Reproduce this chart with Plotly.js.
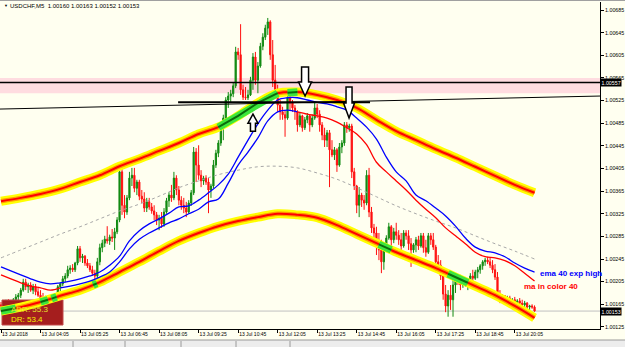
<!DOCTYPE html>
<html><head><meta charset="utf-8">
<script src="https://cdn.plot.ly/plotly-3.0.1.min.js"></script>
<style>html,body{margin:0;padding:0;background:#FFFFF0;overflow:hidden}#chart{width:625px;height:347px}</style>
</head><body><div id="chart"></div>
<script>
// ---------- DATA ----------
const symbolTitle = "USDCHF,M5  1.00160 1.00163 1.00152 1.00153";
const tickBars = [0,16,32,48,64,80,96,112,128,144,160,176,192,208];
const tickLabels = ["13 Jul 2018","13 Jul 04:05","13 Jul 05:25","13 Jul 06:45","13 Jul 08:05","13 Jul 09:25","13 Jul 10:45","13 Jul 12:05","13 Jul 13:25","13 Jul 14:45","13 Jul 16:05","13 Jul 17:25","13 Jul 18:45","13 Jul 20:05"];
const priceTicks = [1.00685,1.00645,1.00605,1.00565,1.00525,1.00485,1.00445,1.00405,1.00365,1.00325,1.00285,1.00245,1.00205,1.00165,1.00125];

const openP = [1.00164,1.00162,1.00166,1.00171,1.00164,1.00167,1.00173,1.00178,1.00181,1.00190,
1.00204,1.00196,1.00199,1.00190,1.00196,1.00187,1.00181,1.00176,1.00173,1.00176,
1.00169,1.00174,1.00171,1.00178,1.00196,1.00201,1.00210,1.00215,1.00226,1.00229,
1.00226,1.00238,1.00263,1.00247,1.00250,1.00238,1.00233,1.00226,1.00220,1.00215,
1.00240,1.00265,1.00273,1.00280,1.00277,1.00284,1.00282,1.00293,1.00314,1.00399,
1.00340,1.00328,1.00353,1.00388,1.00393,1.00370,1.00381,1.00356,1.00351,1.00335,
1.00346,1.00337,1.00330,1.00323,1.00314,1.00317,1.00307,1.00328,1.00348,1.00358,
1.00353,1.00388,1.00367,1.00349,1.00340,1.00335,1.00328,1.00344,1.00362,1.00434,
1.00411,1.00393,1.00383,1.00388,1.00381,1.00367,1.00374,1.00411,1.00432,1.00450,
1.00480,1.00494,1.00526,1.00533,1.00537,1.00551,1.00611,1.00606,1.00544,1.00531,
1.00530,1.00535,1.00561,1.00602,1.00561,1.00586,1.00621,1.00637,1.00653,1.00664,
1.00606,1.00561,1.00544,1.00517,1.00505,1.00500,1.00494,1.00530,1.00521,1.00512,
1.00505,1.00482,1.00498,1.00477,1.00491,1.00498,1.00482,1.00494,1.00512,1.00501,
1.00482,1.00464,1.00455,1.00468,1.00438,1.00429,1.00438,1.00411,1.00443,1.00450,
1.00482,1.00477,1.00480,1.00399,1.00374,1.00340,1.00358,1.00349,1.00344,1.00393,
1.00328,1.00300,1.00291,1.00270,1.00261,1.00240,1.00261,1.00282,1.00302,1.00279,
1.00293,1.00287,1.00279,1.00268,1.00291,1.00286,1.00272,1.00261,1.00270,1.00279,
1.00268,1.00286,1.00265,1.00257,1.00286,1.00279,1.00266,1.00240,1.00234,1.00215,
1.00183,1.00162,1.00181,1.00173,1.00199,1.00208,1.00204,1.00199,1.00208,1.00201,
1.00206,1.00215,1.00211,1.00222,1.00226,1.00233,1.00240,1.00243,1.00240,1.00234,
1.00226,1.00213,1.00181,1.00176,1.00180,1.00173,1.00176,1.00169,1.00173,1.00166,
1.00171,1.00167,1.00164,1.00167,1.00160,1.00162,1.00160];

const highP = [1.00169,1.00167,1.00173,1.00174,1.00169,1.00176,1.00183,1.00185,1.00194,1.00210,
1.00210,1.00203,1.00204,1.00201,1.00201,1.00194,1.00190,1.00185,1.00180,1.00181,
1.00178,1.00180,1.00180,1.00199,1.00204,1.00215,1.00220,1.00233,1.00234,1.00236,
1.00240,1.00268,1.00268,1.00254,1.00252,1.00245,1.00238,1.00233,1.00226,1.00247,
1.00272,1.00279,1.00286,1.00303,1.00288,1.00298,1.00300,1.00319,1.00406,1.00406,
1.00358,1.00358,1.00399,1.00406,1.00406,1.00385,1.00385,1.00367,1.00363,1.00353,
1.00353,1.00344,1.00340,1.00328,1.00323,1.00328,1.00335,1.00353,1.00363,1.00376,
1.00399,1.00393,1.00374,1.00356,1.00353,1.00346,1.00349,1.00367,1.00443,1.00441,
1.00446,1.00402,1.00392,1.00393,1.00388,1.00378,1.00420,1.00438,1.00455,1.00485,
1.00500,1.00531,1.00540,1.00544,1.00556,1.00620,1.00618,1.00660,1.00553,1.00549,
1.00544,1.00567,1.00609,1.00611,1.00593,1.00627,1.00644,1.00659,1.00671,1.00667,
1.00632,1.00588,1.00553,1.00526,1.00514,1.00508,1.00535,1.00538,1.00526,1.00517,
1.00508,1.00503,1.00500,1.00496,1.00503,1.00500,1.00500,1.00521,1.00519,1.00508,
1.00487,1.00477,1.00473,1.00473,1.00455,1.00443,1.00441,1.00450,1.00455,1.00487,
1.00487,1.00484,1.00484,1.00406,1.00376,1.00372,1.00362,1.00358,1.00402,1.00406,
1.00337,1.00307,1.00302,1.00291,1.00279,1.00270,1.00287,1.00309,1.00305,1.00300,
1.00309,1.00296,1.00291,1.00296,1.00296,1.00296,1.00282,1.00273,1.00284,1.00286,
1.00291,1.00291,1.00279,1.00291,1.00291,1.00291,1.00270,1.00252,1.00243,1.00226,
1.00199,1.00190,1.00199,1.00208,1.00213,1.00215,1.00217,1.00213,1.00213,1.00211,
1.00220,1.00226,1.00226,1.00231,1.00236,1.00243,1.00247,1.00249,1.00247,1.00243,
1.00236,1.00222,1.00190,1.00183,1.00181,1.00180,1.00180,1.00176,1.00178,1.00174,
1.00176,1.00173,1.00171,1.00169,1.00164,1.00165,1.00163];

const lowP = [1.00155,1.00157,1.00160,1.00162,1.00158,1.00164,1.00167,1.00171,1.00176,1.00187,
1.00190,1.00185,1.00187,1.00183,1.00181,1.00178,1.00173,1.00169,1.00166,1.00164,
1.00166,1.00167,1.00169,1.00174,1.00188,1.00197,1.00204,1.00211,1.00219,1.00222,
1.00222,1.00234,1.00240,1.00238,1.00233,1.00229,1.00222,1.00215,1.00204,1.00210,
1.00234,1.00257,1.00266,1.00272,1.00270,1.00275,1.00261,1.00289,1.00310,1.00323,
1.00317,1.00323,1.00349,1.00374,1.00363,1.00358,1.00349,1.00344,1.00328,1.00328,
1.00332,1.00325,1.00314,1.00305,1.00296,1.00300,1.00302,1.00325,1.00337,1.00346,
1.00349,1.00358,1.00340,1.00332,1.00326,1.00319,1.00325,1.00339,1.00358,1.00381,
1.00385,1.00372,1.00376,1.00376,1.00326,1.00353,1.00370,1.00406,1.00425,1.00445,
1.00455,1.00487,1.00512,1.00521,1.00531,1.00547,1.00597,1.00535,1.00526,1.00526,
1.00526,1.00533,1.00544,1.00553,1.00538,1.00583,1.00614,1.00632,1.00641,1.00597,
1.00549,1.00535,1.00505,1.00491,1.00491,1.00461,1.00491,1.00508,1.00505,1.00491,
1.00470,1.00478,1.00470,1.00473,1.00485,1.00470,1.00478,1.00491,1.00494,1.00470,
1.00455,1.00443,1.00443,1.00372,1.00425,1.00420,1.00399,1.00408,1.00432,1.00445,
1.00468,1.00470,1.00388,1.00367,1.00326,1.00319,1.00337,1.00332,1.00340,1.00319,
1.00291,1.00279,1.00252,1.00243,1.00220,1.00226,1.00257,1.00279,1.00266,1.00273,
1.00279,1.00270,1.00256,1.00265,1.00279,1.00261,1.00231,1.00256,1.00257,1.00261,
1.00265,1.00256,1.00249,1.00254,1.00270,1.00261,1.00231,1.00222,1.00208,1.00173,
1.00151,1.00143,1.00155,1.00143,1.00185,1.00199,1.00190,1.00194,1.00196,1.00190,
1.00199,1.00203,1.00208,1.00211,1.00219,1.00226,1.00233,1.00236,1.00229,1.00220,
1.00208,1.00173,1.00167,1.00169,1.00166,1.00167,1.00164,1.00162,1.00160,1.00162,
1.00162,1.00158,1.00157,1.00155,1.00155,1.00157,1.00152];

const closeP = [1.00162,1.00166,1.00171,1.00164,1.00167,1.00173,1.00178,1.00181,1.00190,1.00204,
1.00196,1.00199,1.00190,1.00196,1.00187,1.00181,1.00176,1.00173,1.00176,1.00169,
1.00174,1.00171,1.00178,1.00196,1.00201,1.00210,1.00215,1.00226,1.00229,1.00226,
1.00238,1.00263,1.00247,1.00250,1.00238,1.00233,1.00226,1.00220,1.00215,1.00240,
1.00265,1.00273,1.00280,1.00277,1.00284,1.00282,1.00293,1.00314,1.00399,1.00340,
1.00328,1.00353,1.00388,1.00393,1.00370,1.00381,1.00356,1.00351,1.00335,1.00346,
1.00337,1.00330,1.00323,1.00314,1.00317,1.00307,1.00328,1.00348,1.00358,1.00353,
1.00388,1.00367,1.00349,1.00340,1.00335,1.00328,1.00344,1.00362,1.00434,1.00411,
1.00393,1.00383,1.00388,1.00381,1.00367,1.00374,1.00411,1.00432,1.00450,1.00480,
1.00494,1.00526,1.00533,1.00537,1.00551,1.00611,1.00606,1.00544,1.00531,1.00530,
1.00535,1.00561,1.00602,1.00561,1.00586,1.00621,1.00637,1.00653,1.00664,1.00606,
1.00561,1.00544,1.00517,1.00505,1.00500,1.00494,1.00530,1.00521,1.00512,1.00505,
1.00482,1.00498,1.00477,1.00491,1.00498,1.00482,1.00494,1.00512,1.00501,1.00482,
1.00464,1.00455,1.00468,1.00438,1.00429,1.00438,1.00411,1.00443,1.00450,1.00482,
1.00477,1.00480,1.00399,1.00374,1.00340,1.00358,1.00349,1.00344,1.00393,1.00328,
1.00300,1.00291,1.00270,1.00261,1.00240,1.00261,1.00282,1.00302,1.00279,1.00293,
1.00287,1.00279,1.00268,1.00291,1.00286,1.00272,1.00261,1.00270,1.00279,1.00268,
1.00286,1.00265,1.00257,1.00286,1.00279,1.00266,1.00240,1.00234,1.00215,1.00183,
1.00162,1.00181,1.00173,1.00199,1.00208,1.00204,1.00199,1.00208,1.00201,1.00206,
1.00215,1.00211,1.00222,1.00226,1.00233,1.00240,1.00243,1.00240,1.00234,1.00226,
1.00213,1.00181,1.00176,1.00180,1.00173,1.00176,1.00169,1.00173,1.00166,1.00171,
1.00167,1.00164,1.00167,1.00160,1.00162,1.00160,1.00153];

// envelope bands, sampled every 8 bars
const bandIdx = [0,8,16,24,32,40,48,56,64,72,80,88,96,104,112,120,128,136,144,152,160,168,176,184,192,200,208,216];
const upperBand = [1.00347,1.00353,1.00360,1.00369,1.00381,1.00393,1.00409,1.00422,1.00436,1.00450,1.00466,1.00478,1.00498,1.00521,1.00538,1.00540,1.00535,1.00526,1.00512,1.00491,1.00471,1.00455,1.00439,1.00424,1.00408,1.00392,1.00376,1.00362];
const lowerBand = [1.00153,1.00160,1.00169,1.00180,1.00190,1.00204,1.00222,1.00240,1.00259,1.00277,1.00291,1.00303,1.00312,1.00319,1.00325,1.00323,1.00318,1.00305,1.00289,1.00273,1.00257,1.00243,1.00229,1.00213,1.00197,1.00181,1.00162,1.00141];
const midBand = [1.00247,1.00261,1.00275,1.00289,1.00302,1.00316,1.00330,1.00342,1.00356,1.00371,1.00383,1.00394,1.00402,1.00408,1.00409,1.00406,1.00397,1.00386,1.00371,1.00355,1.00339,1.00325,1.00312,1.00300,1.00286,1.00272,1.00259,1.00245];

// touches of the band (green highlight)
const upperTouchIdx = [88,96,104,112,null,116,120];
const upperTouchP = [1.00478,1.00498,1.00521,1.00538,null,1.00539,1.00540];
const lowerTouchIdx = [0,6,null,16,19,null,20.5,22.5,null,37.3,38.8,null,153,158,null,181,184,189];
const lowerTouchP = [1.00153,1.00158,null,1.00169,1.00173,null,1.00175,1.00178,null,1.00199,1.00202,null,1.00271,1.00261,null,1.00219,1.00213,1.00203];

// moving averages, sampled every 4 bars
const maIdx = [0,4,8,12,16,20,24,28,32,36,40,44,48,52,56,60,64,68,72,76,80,84,88,92,96,100,104,108,112,116,120,124,128,132,136,140,144,148,152,156,160,164,168,172,176,180,184,188,192,196,200,204,208,212,216];
const emaHigh = [1.00231,1.00224,1.00217,1.00210,1.00204,1.00201,1.00203,1.00206,1.00210,1.00215,1.00222,1.00234,1.00250,1.00277,1.00295,1.00307,1.00316,1.00326,1.00337,1.00339,1.00349,1.00362,1.00376,1.00395,1.00425,1.00455,1.00484,1.00508,1.00526,1.00530,1.00530,1.00526,1.00522,1.00519,1.00514,1.00508,1.00494,1.00478,1.00457,1.00425,1.00399,1.00383,1.00358,1.00348,1.00335,1.00321,1.00303,1.00282,1.00266,1.00259,1.00256,1.00249,1.00238,1.00229,1.00222];
const maColor = [1.00217,1.00210,1.00203,1.00197,1.00194,1.00190,1.00194,1.00197,1.00201,1.00206,1.00213,1.00222,1.00240,1.00263,1.00280,1.00291,1.00300,1.00309,1.00316,1.00325,1.00333,1.00346,1.00351,1.00379,1.00411,1.00434,1.00459,1.00489,1.00505,1.00508,1.00505,1.00501,1.00498,1.00494,1.00487,1.00477,1.00466,1.00447,1.00416,1.00399,1.00383,1.00367,1.00349,1.00333,1.00318,1.00300,1.00286,1.00272,1.00257,1.00249,1.00247,1.00242,1.00233,1.00220,1.00206];
const maRisingFrom = 24, maRisingTo = 120;   // bar range where the coloured MA is rising (blue)

// drawn levels
const resistance = 1.00557;
const zoneLow = 1.00538, zoneHigh = 1.00565;
const bidPrice = 1.00153;
const trendIdx = [-0.4, 242.5], trendP = [1.00510, 1.00533];
const flatIdx = [71.7, 149.4], flatP = [1.00522, 1.00522];
const arrowIdx = [102.0, 123.1, 140.9];
const arrowP = [1.00501, 1.00533, 1.00494];
const arrowDir = ["up", "down", "down2"];
const adrLines = ["ADR: 55.3", "DR: 53.4"];

// ---------- LAYOUT HELPERS ----------
const XR = [-0.405, 242.5];
const YR = [1.001213, 1.006992];
const PLOT_W = 600, PLOT_TOP = 2, PLOT_H = 327;
function pxX(px){ return XR[0] + px / PLOT_W * (XR[1]-XR[0]); }
function pxY(py){ return YR[1] - (py - PLOT_TOP) / PLOT_H * (YR[1]-YR[0]); }
function pyPaper(py){ return (PLOT_TOP + PLOT_H - py) / PLOT_H; }

const barIdx = openP.map((_, i) => i);
const traces = [];

traces.push({
  type:'candlestick', x:barIdx, open:openP, high:highP, low:lowP, close:closeP,
  increasing:{line:{color:'#128A12', width:1}, fillcolor:'#128A12'},
  decreasing:{line:{color:'#FF1010', width:1}, fillcolor:'#FF1010'},
  whiskerwidth:0, hoverinfo:'skip'
});

// ADR box (over candles, under indicators)
traces.push({
  type:'scatter', mode:'lines', fill:'toself', fillcolor:'#A51E1E',
  x:[pxX(2),pxX(63),pxX(63),pxX(2),pxX(2)],
  y:[pxY(300),pxY(300),pxY(325),pxY(325),pxY(300)],
  line:{color:'#C04848', width:1}, hoverinfo:'skip'
});

// middle dotted line
traces.push({type:'scatter', mode:'lines', x:bandIdx, y:midBand,
  line:{color:'#A8A8A8', width:1, dash:'dot', shape:'spline'}, hoverinfo:'skip'});

// bands: yellow glow, orange, red core
[['#FFFF00',9],['#FF9C00',4.5],['#FF0000',2]].forEach(([c,w])=>{
  traces.push({type:'scatter', mode:'lines', x:bandIdx, y:upperBand, line:{color:c,width:w,shape:'spline'}, hoverinfo:'skip'});
  traces.push({type:'scatter', mode:'lines', x:bandIdx, y:lowerBand, line:{color:c,width:w,shape:'spline'}, hoverinfo:'skip'});
});
// green touches
[['#3CE63C',7.5],['#0B6B0B',2]].forEach(([c,w])=>{
  traces.push({type:'scatter', mode:'lines', x:upperTouchIdx, y:upperTouchP, connectgaps:false, line:{color:c,width:w}, hoverinfo:'skip'});
  traces.push({type:'scatter', mode:'lines', x:lowerTouchIdx, y:lowerTouchP, connectgaps:false, line:{color:c,width:w}, hoverinfo:'skip'});
});

// EMA of highs (blue)
traces.push({type:'scatter', mode:'lines', x:maIdx, y:emaHigh, line:{color:'#0000FF', width:1.3, shape:'spline'}, hoverinfo:'skip'});
// coloured MA
const k1 = maIdx.indexOf(maRisingFrom), k2 = maIdx.indexOf(maRisingTo);
traces.push({type:'scatter', mode:'lines', x:maIdx.slice(0,k1+1), y:maColor.slice(0,k1+1), line:{color:'#FF0000', width:1.3, shape:'spline'}, hoverinfo:'skip'});
traces.push({type:'scatter', mode:'lines', x:maIdx.slice(k1,k2+1), y:maColor.slice(k1,k2+1), line:{color:'#0000FF', width:1.3, shape:'spline'}, hoverinfo:'skip'});
traces.push({type:'scatter', mode:'lines', x:maIdx.slice(k2), y:maColor.slice(k2), line:{color:'#FF0000', width:1.3, shape:'spline'}, hoverinfo:'skip'});

// trend lines
traces.push({type:'scatter', mode:'lines', x:trendIdx, y:trendP, line:{color:'#000', width:1}, hoverinfo:'skip'});
traces.push({type:'scatter', mode:'lines', x:flatIdx, y:flatP, line:{color:'#000', width:1.8}, hoverinfo:'skip'});

// ---------- SHAPES ----------
const arrowPaths = {
  up:   'M0,0 L-5,-9 L-2.5,-9 L-2.5,-17 L2.5,-17 L2.5,-9 L5,-9 Z',
  down: 'M0,0 L-6.5,14 L-3.5,14 L-3.5,29 L3.5,29 L3.5,14 L6.5,14 Z',
  down2:'M0,0 L-5.5,15 L-3,15 L-3,31 L3,31 L3,15 L5.5,15 Z'
};
const shapes = [
  {type:'rect', xref:'paper', x0:0, x1:1, yref:'y', y0:zoneLow, y1:zoneHigh, fillcolor:'#FFDCE0', line:{width:0}, layer:'below'},
  {type:'line', xref:'paper', x0:0, x1:1, yref:'y', y0:bidPrice, y1:bidPrice, line:{color:'#C0C0C0', width:1}, layer:'below'},
  {type:'line', xref:'paper', x0:0, x1:1, yref:'y', y0:resistance, y1:resistance, line:{color:'#000', width:1.5}, layer:'above'},
  {type:'line', xref:'paper', x0:0, x1:625/600, yref:'paper', y0:pyPaper(0.5), y1:pyPaper(0.5), line:{color:'#A0A0A0', width:1}},
  {type:'rect', xref:'paper', x0:0, x1:625/600, yref:'paper', y0:pyPaper(340), y1:pyPaper(348), fillcolor:'#EDEDED', line:{width:0}},
  {type:'line', xref:'paper', x0:0, x1:625/600, yref:'paper', y0:pyPaper(340), y1:pyPaper(340), line:{color:'#9A9A9A', width:1}}
];
[73,125,181,236,290].forEach(px=>{
  shapes.push({type:'line', xref:'paper', x0:px/600, x1:px/600, yref:'paper', y0:pyPaper(341), y1:pyPaper(347), line:{color:'#9A9A9A', width:1}});
});
arrowIdx.forEach((xi, k)=>{
  shapes.push({type:'path', xref:'x', yref:'y', xsizemode:'pixel', ysizemode:'pixel',
    xanchor:xi, yanchor:arrowP[k], path:arrowPaths[arrowDir[k]],
    fillcolor:'#FFFFFF', line:{color:'#000', width:1.5}, layer:'above'});
});

// ---------- ANNOTATIONS ----------
const annotations = [
  {xref:'paper', yref:'paper', x:2/600, y:pyPaper(6), xanchor:'left', yanchor:'middle', text:'▼', showarrow:false, font:{size:4, color:'#000'}},
  {xref:'paper', yref:'paper', x:8/600, y:pyPaper(6), xanchor:'left', yanchor:'middle', text:symbolTitle, showarrow:false, font:{size:6, color:'#000', family:'Liberation Sans, Arial'}},
  {xref:'paper', yref:'y', x:1, y:resistance, xanchor:'left', yanchor:'middle', text:resistance.toFixed(5), showarrow:false, bgcolor:'#000', borderpad:0.5, font:{size:5.3, color:'#FFF'}},
  {xref:'paper', yref:'y', x:1, y:bidPrice, xanchor:'left', yanchor:'middle', text:bidPrice.toFixed(5), showarrow:false, bgcolor:'#000', borderpad:0.5, font:{size:5.3, color:'#FFF'}},
  {xref:'x', yref:'y', x:217.4, y:1.00220, xanchor:'left', yanchor:'middle', text:'ema 40 exp high', showarrow:false, font:{size:8, color:'#0000FF', weight:'bold', family:'Liberation Sans, Arial'}},
  {xref:'x', yref:'y', x:211, y:1.00197, xanchor:'left', yanchor:'middle', text:'ma in color 40', showarrow:false, font:{size:8, color:'#FF0000', weight:'bold', family:'Liberation Sans, Arial'}},
  {xref:'paper', yref:'paper', x:9/600, y:pyPaper(309.5), xanchor:'left', yanchor:'middle', text:adrLines[0], showarrow:false, font:{size:8, color:'#E6E62E', family:'Liberation Sans, Arial'}},
  {xref:'paper', yref:'paper', x:9/600, y:pyPaper(319.5), xanchor:'left', yanchor:'middle', text:adrLines[1], showarrow:false, font:{size:8, color:'#F2F200', family:'Liberation Sans, Arial'}}
];

const layout = {
  width:625, height:347,
  margin:{l:0, r:25, t:2, b:18, pad:0},
  paper_bgcolor:'#FFFFF0', plot_bgcolor:'#FFFFF0',
  showlegend:false, hovermode:false,
  font:{family:'Liberation Sans, Arial, sans-serif', color:'#000'},
  xaxis:{range:XR, tickmode:'array', tickvals:tickBars, ticktext:tickLabels, ticks:'outside', ticklen:3, tickcolor:'#000',
    showline:true, linecolor:'#000', linewidth:1, showgrid:false, zeroline:false, tickfont:{size:5},
    ticklabelposition:'outside right', rangeslider:{visible:false}, fixedrange:true},
  yaxis:{side:'right', range:YR, tickmode:'array', tickvals:priceTicks, ticktext:priceTicks.map(v=>v.toFixed(5)),
    ticks:'outside', ticklen:3, tickcolor:'#000', showline:true, linecolor:'#000', linewidth:1,
    showgrid:false, zeroline:false, tickfont:{size:5.3}, fixedrange:true},
  shapes:shapes, annotations:annotations
};

Plotly.newPlot('chart', traces, layout, {displayModeBar:false, staticPlot:true});
</script></body></html>
